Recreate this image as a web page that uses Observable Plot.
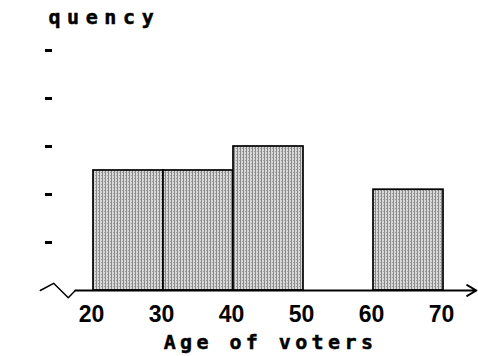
<!DOCTYPE html>
<html>
<head>
<meta charset="utf-8">
<script src="https://cdn.jsdelivr.net/npm/d3@7"></script>
<script src="https://cdn.jsdelivr.net/npm/@observablehq/plot@0.6"></script>
<style>
  html, body { margin: 0; padding: 0; background: white; }
  svg { display: block; }
</style>
</head>
<body>
<div id="chart"></div>
<script>
// Data
const binStart = [20, 30, 40, 60];
const binEnd   = [30, 40, 50, 70];
const frequency = [2.5, 2.5, 3, 2.1];
const xTicks = [20, 30, 40, 50, 60, 70];
const yTicks = [1, 2, 3, 4, 5];
const xLabel = "Age of voters";
const yLabel = "Frequency";
// axis-break zigzag (data units) and axis extent
const breakX = [12.4, 14.3, 16.4, 17.4];
const breakY = [0, 0.15, -0.15, 0];
const axisEnd = 74.7;

const bars = binStart.map((s, i) => ({x1: s, x2: binEnd[i], y: frequency[i]}));
const zig = breakX.map((x, i) => ({x, y: breakY[i]}));

const labelDx = -60;

const plot = Plot.plot({
  width: 478,
  height: 356,
  marginTop: 50,
  marginBottom: 66,
  marginLeft: 52,
  marginRight: 0,
  style: {background: "white", color: "black", overflow: "hidden"},
  x: {domain: [20, 70], range: [93, 443]},
  y: {domain: [0, 5], range: [290, 50]},
  marks: [
    Plot.rectY(bars, {x1: "x1", x2: "x2", y: "y", fill: "#bdbdbd", stroke: "black", strokeWidth: 1.7, className: "bars"}),
    Plot.line(zig, {x: "x", y: "y", stroke: "black", strokeWidth: 1.5}),
    Plot.arrow([{x1: breakX[breakX.length - 1], x2: axisEnd}], {x1: "x1", x2: "x2", y1: 0, y2: 0, stroke: "black", strokeWidth: 2, headLength: 8, bend: 0}),
    Plot.axisY({ticks: yTicks, tickSize: 7, tickFormat: () => "", strokeWidth: 3, label: null}),
    Plot.axisX({ticks: xTicks, tickSize: 0, tickPadding: 15, label: null, fontSize: 23, fontWeight: "bold", fontFamily: "Liberation Sans", dx: -2}),
    Plot.text([xLabel], {x: 45, frameAnchor: "bottom", dy: 58, dx: 2, lineAnchor: "bottom", textAnchor: "middle", fontSize: 20, fontWeight: "bold", fontFamily: "DejaVu Sans Mono", fill: "black", stroke: "black", strokeWidth: 0.5, className: "xlabel"}),
    Plot.text([yLabel], {frameAnchor: "top-left", dx: labelDx, dy: -27, lineAnchor: "bottom", textAnchor: "start", fontSize: 20, fontWeight: "bold", fontFamily: "DejaVu Sans Mono", fill: "black", stroke: "black", strokeWidth: 0.5, className: "ylabel"})
  ]
});

document.getElementById("chart").appendChild(plot);

// Stipple pattern for the bars
const svg = d3.select(plot);
const defs = svg.insert("defs", ":first-child");
const pat = defs.append("pattern").attr("id", "dots").attr("patternUnits", "userSpaceOnUse")
  .attr("width", 3).attr("height", 3);
pat.append("rect").attr("width", 3).attr("height", 3).attr("fill", "#d8d8d8");
pat.append("rect").attr("x", 0).attr("width", 1).attr("height", 3).attr("fill", "#8a8a8a");
pat.append("rect").attr("x", 2).attr("y", 1).attr("width", 1).attr("height", 1).attr("fill", "#a0a0a0");
svg.selectAll("g.bars, g.bars rect").attr("fill", "url(#dots)");

// Clip the partially hidden y label (clip rect in the label group's shifted coordinates)
const clip = defs.append("clipPath").attr("id", "ylabclip");
clip.append("rect").attr("x", 44 - labelDx).attr("y", 27 - 20).attr("width", 478).attr("height", 80);
svg.selectAll("g.ylabel").attr("clip-path", "url(#ylabclip)");
svg.selectAll("g.xlabel text").style("letter-spacing", "4.4px");
svg.selectAll("g.ylabel text").style("letter-spacing", "6.6px");
</script>
</body>
</html>
